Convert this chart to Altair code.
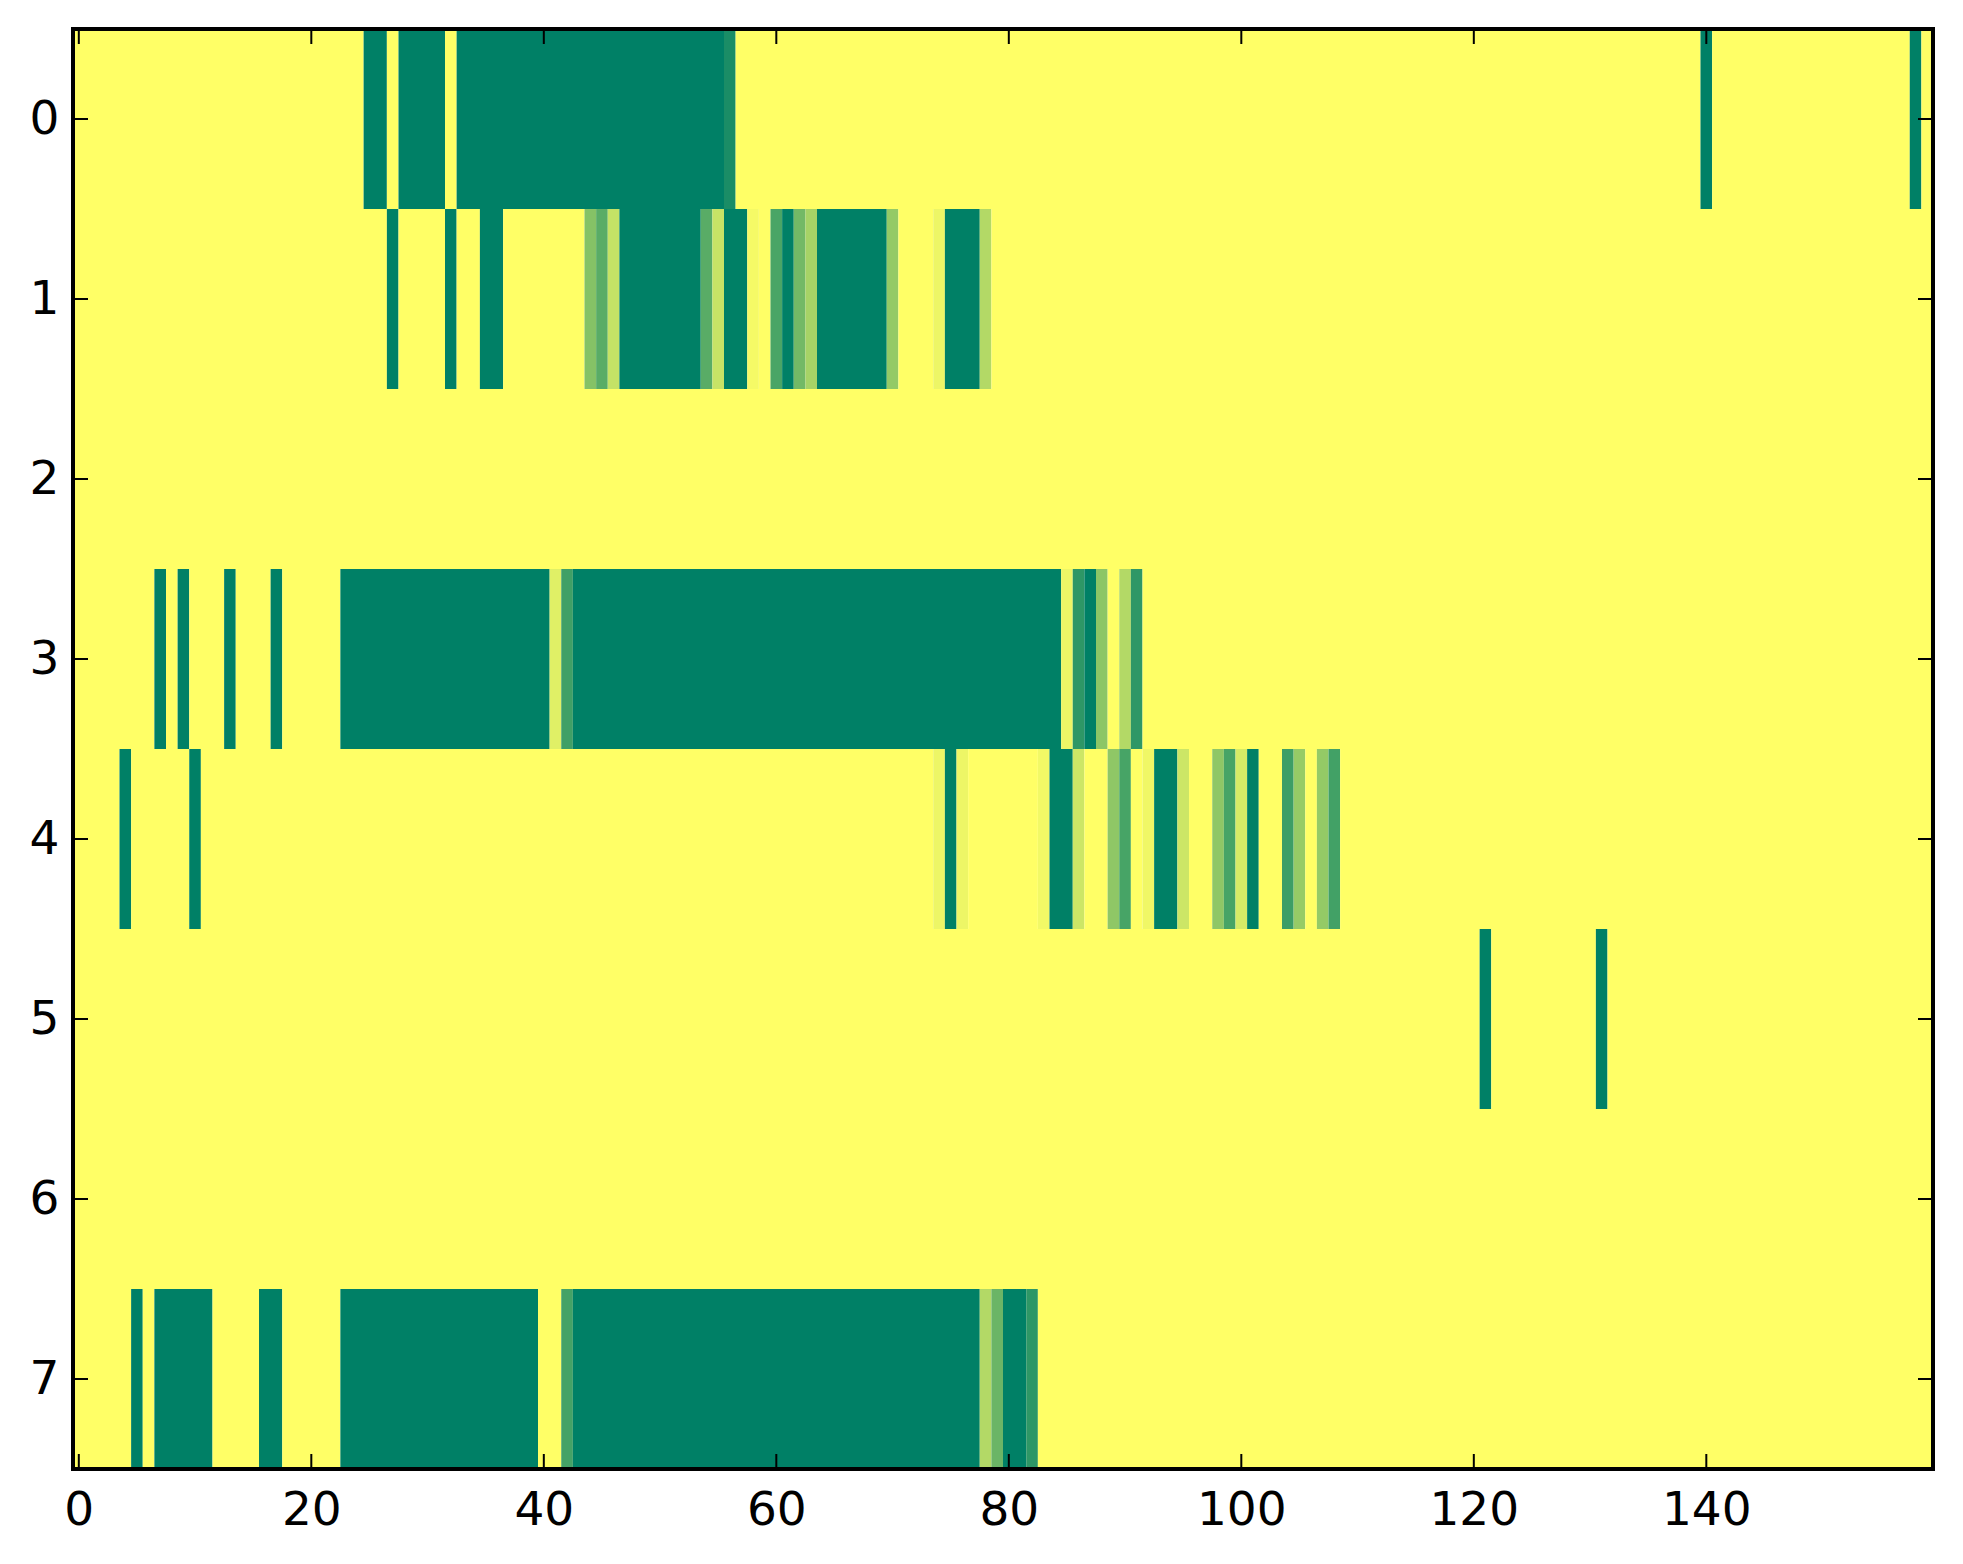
import altair as alt
import pandas as pd

N_COLS = 160
N_ROWS = 8

# Each row: segments of (first column, last column, value); everything else is 0
row0 = [(25, 26, 1.0), (28, 31, 1.0), (33, 55, 1.0), (56, 56, 0.9),
        (140, 140, 1.0), (158, 158, 1.0)]
row1 = [(27, 27, 1.0), (32, 32, 1.0), (35, 36, 1.0), (44, 44, 0.48), (45, 45, 0.65),
        (46, 46, 0.23), (47, 53, 1.0), (54, 54, 0.65), (55, 55, 0.22), (56, 57, 1.0),
        (58, 58, 0.04), (60, 60, 0.71), (61, 61, 1.0), (62, 62, 0.55), (63, 63, 0.35),
        (64, 69, 1.0), (70, 70, 0.42), (74, 74, 0.07), (75, 77, 1.0), (78, 78, 0.3)]
row2 = []
row3 = [(7, 7, 1.0), (9, 9, 1.0), (13, 13, 1.0), (17, 17, 1.0), (23, 40, 1.0),
        (41, 41, 0.12), (42, 42, 0.75), (43, 84, 1.0), (85, 85, 0.07), (86, 86, 0.82),
        (87, 87, 1.0), (88, 88, 0.45), (90, 90, 0.3), (91, 91, 0.82)]
row4 = [(4, 4, 1.0), (10, 10, 1.0), (74, 74, 0.07), (75, 75, 1.0), (76, 76, 0.07),
        (83, 83, 0.05), (84, 85, 1.0), (86, 86, 0.2), (89, 89, 0.44), (90, 90, 0.72),
        (92, 92, 0.06), (93, 94, 1.0), (95, 95, 0.2), (98, 98, 0.44), (99, 99, 0.72),
        (100, 100, 0.16), (101, 101, 1.0), (104, 104, 0.76), (105, 105, 0.41),
        (107, 107, 0.42), (108, 108, 0.74)]
row5 = [(121, 121, 1.0), (131, 131, 1.0)]
row6 = []
row7 = [(5, 5, 1.0), (7, 11, 1.0), (16, 17, 1.0), (23, 39, 1.0), (42, 42, 0.73),
        (43, 77, 1.0), (78, 78, 0.3), (79, 79, 0.58), (80, 81, 1.0), (82, 82, 0.82)]

rows = [row0, row1, row2, row3, row4, row5, row6, row7]

x_ticks = [0, 20, 40, 60, 80, 100, 120, 140]
y_ticks = [0, 1, 2, 3, 4, 5, 6, 7]

# Build the full grid, then merge equal neighbouring cells in a row into one rect
records = []
for r, segs in enumerate(rows):
    vals = [0.0] * N_COLS
    for s, e, v in segs:
        for c in range(s, e + 1):
            vals[c] = v
    start = 0
    for c in range(1, N_COLS + 1):
        if c == N_COLS or vals[c] != vals[start]:
            records.append({"row": r, "c0": start, "c1": c - 1, "v": vals[start]})
            start = c
df = pd.DataFrame(records)

W, H = 1860, 1440
FONT = "DejaVu Sans"
FS = 47
TICK = 15

xscale = alt.Scale(domain=[-0.5, N_COLS - 0.5], nice=False, zero=False)
yscale = alt.Scale(domain=[-0.5, N_ROWS - 0.5], nice=False, zero=False, reverse=True)
cscale = alt.Scale(domain=[0, 1], range=["#ffff66", "#008066"], interpolate="rgb")

xaxis = alt.Axis(values=x_ticks, ticks=False, domain=False, grid=False,
                 labelFont=FONT, labelFontSize=FS, labelColor="black",
                 labelPadding=18, labelFlush=False, title=None, format="d")
yaxis = alt.Axis(values=y_ticks, ticks=False, domain=False, grid=False,
                 labelFont=FONT, labelFontSize=FS, labelColor="black",
                 labelPadding=14, labelFlush=False, title=None, format="d")

heat = alt.Chart(df).transform_calculate(
    x0="datum.c0 - 0.5", x1="datum.c1 + 0.5",
    y0="datum.row - 0.5", y1="datum.row + 0.5",
).mark_rect(strokeWidth=0).encode(
    x=alt.X("x0:Q", scale=xscale, axis=xaxis),
    x2="x1:Q",
    y=alt.Y("y0:Q", scale=yscale, axis=yaxis),
    y2="y1:Q",
    color=alt.Color("v:Q", scale=cscale, legend=None),
)

xt = pd.DataFrame({"t": x_ticks})
yt = pd.DataFrame({"t": y_ticks})

xb = alt.Chart(xt).mark_rule(color="black", strokeWidth=2).encode(
    x=alt.X("t:Q", scale=xscale, axis=xaxis), y=alt.value(H), y2=alt.value(H - TICK))
xtop = alt.Chart(xt).mark_rule(color="black", strokeWidth=2).encode(
    x=alt.X("t:Q", scale=xscale, axis=xaxis), y=alt.value(0), y2=alt.value(TICK))
yl = alt.Chart(yt).mark_rule(color="black", strokeWidth=2).encode(
    y=alt.Y("t:Q", scale=yscale, axis=yaxis), x=alt.value(0), x2=alt.value(TICK))
yr = alt.Chart(yt).mark_rule(color="black", strokeWidth=2).encode(
    y=alt.Y("t:Q", scale=yscale, axis=yaxis), x=alt.value(W - TICK), x2=alt.value(W))

frame = alt.Chart(pd.DataFrame({"k": [0]})).mark_rect(
    fillOpacity=0, stroke="black", strokeWidth=4
).encode(x=alt.value(0), x2=alt.value(W), y=alt.value(0), y2=alt.value(H))

chart = alt.layer(heat, xb, xtop, yl, yr, frame).properties(
    width=W, height=H,
    autosize=alt.AutoSizeParams(type="none"),
    padding={"left": 65, "top": 21, "right": 22, "bottom": 80},
    background="white",
).configure_view(stroke=None)

chart.save("out.html", embed_options={"renderer": "svg", "actions": False})
